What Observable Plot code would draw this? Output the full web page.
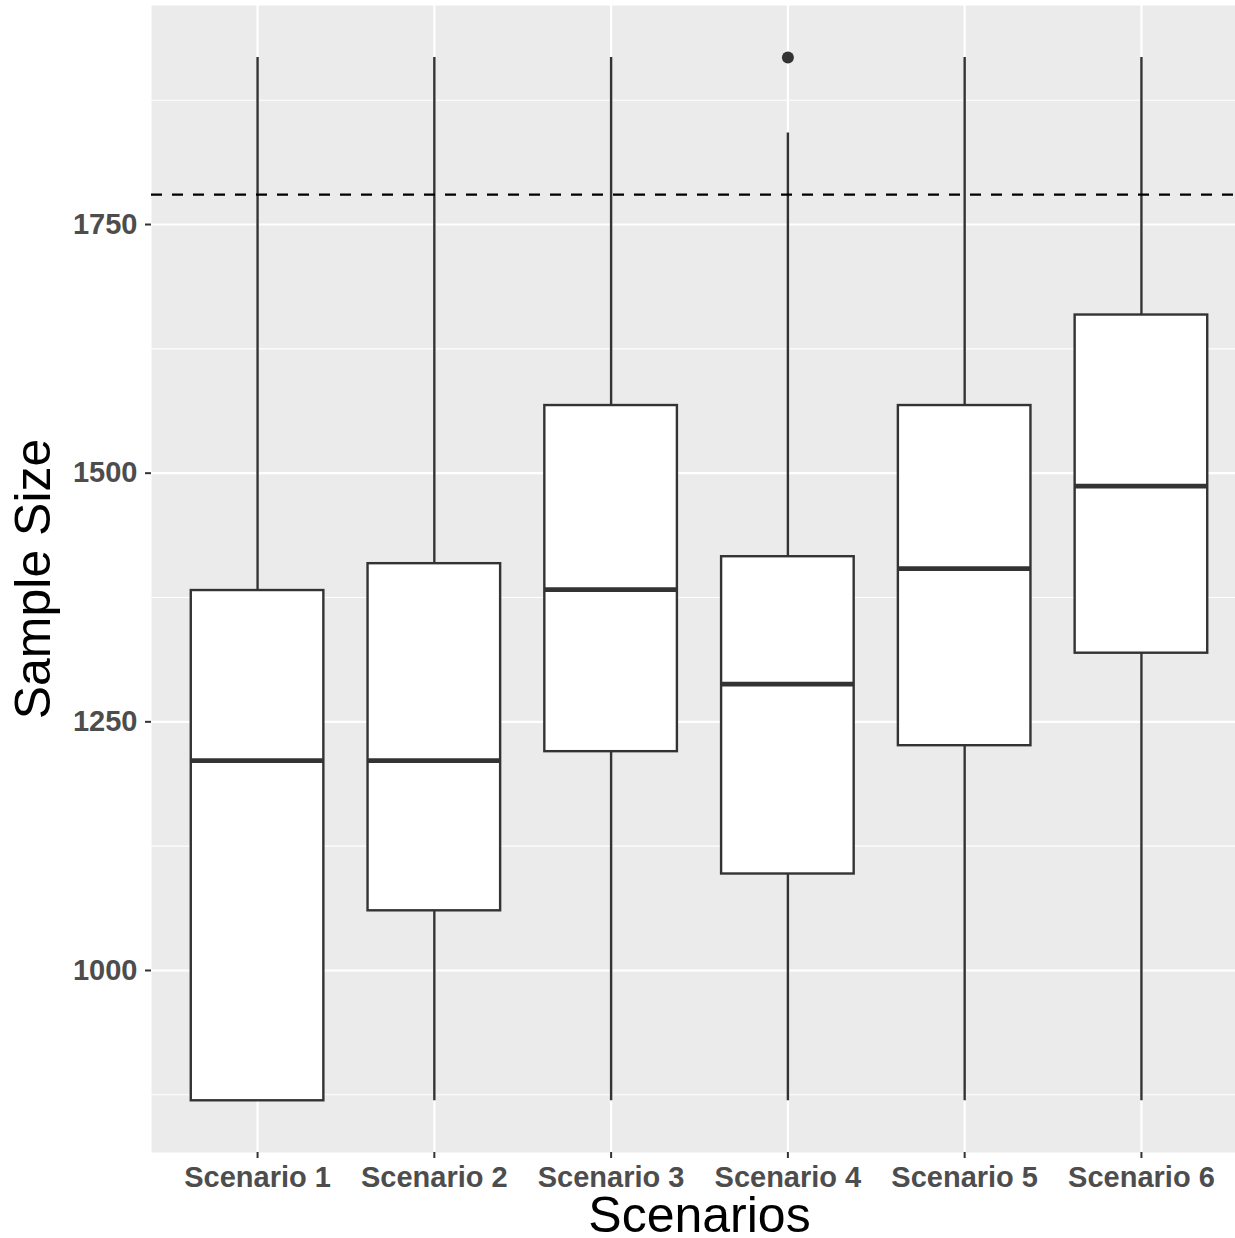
<!DOCTYPE html>
<html>
<head>
<meta charset="utf-8">
<script src="https://cdn.jsdelivr.net/npm/d3@7"></script>
<script src="https://cdn.jsdelivr.net/npm/@observablehq/plot@0.6"></script>
<style>
  html, body { margin: 0; padding: 0; background: #ffffff; }
  #chart svg { display: block; font-family: "Liberation Sans", Arial, Helvetica, sans-serif; }
</style>
</head>
<body>
<div id="chart"></div>
<script>
// Summary statistics
const scenarios     = ["Scenario 1", "Scenario 2", "Scenario 3", "Scenario 4", "Scenario 5", "Scenario 6"];
const lowerWhisker  = [869, 869, 869, 869, 869, 869];
const q1            = [869, 1060, 1220, 1097, 1226, 1319];
const median        = [1211, 1211, 1383, 1288, 1404, 1487];
const q3            = [1382, 1409, 1568, 1416, 1568, 1659];
const upperWhisker  = [1918, 1918, 1918, 1842, 1918, 1918];
const outlierScenario = ["Scenario 4"];
const outlierValue    = [1918];
const referenceLine   = [1780];
const majorTicks = [1000, 1250, 1500, 1750];
const minorTicks = [875, 1125, 1375, 1625, 1875];
const xTitle = "Scenarios";
const yTitle = "Sample Size";

const boxes = scenarios.map((s, i) => ({
  scenario: s, lo: lowerWhisker[i], q1: q1[i], med: median[i], q3: q3[i], hi: upperWhisker[i]
}));
const outliers = outlierScenario.map((s, i) => ({scenario: s, value: outlierValue[i]}));

const font = "Liberation Sans, Arial, Helvetica, sans-serif";
const dark = "#333333";

const chart = Plot.plot({
  width: 1235,
  height: 1238,
  marginLeft: 151,
  marginRight: 0,
  marginTop: 5,
  marginBottom: 86,
  style: {background: "#ffffff", fontFamily: font},
  x: {type: "band", domain: scenarios, range: [151, 1247], paddingInner: 0.25, paddingOuter: 0.225, round: false},
  y: {domain: [817, 1970.2]},
  marks: [
    Plot.frame({fill: "#EBEBEB", stroke: "none"}),
    Plot.ruleY(minorTicks, {stroke: "#ffffff", strokeWidth: 1.1}),
    Plot.ruleY(majorTicks, {stroke: "#ffffff", strokeWidth: 2.2}),
    Plot.ruleX(scenarios, {x: d => d, stroke: "#ffffff", strokeWidth: 2.2}),
    // whiskers
    Plot.ruleX(boxes, {x: "scenario", y1: "lo", y2: "q1", stroke: dark, strokeWidth: 2.4}),
    Plot.ruleX(boxes, {x: "scenario", y1: "q3", y2: "hi", stroke: dark, strokeWidth: 2.4}),
    // boxes
    Plot.barY(boxes, {x: "scenario", y1: "q1", y2: "q3", fill: "#ffffff", stroke: dark, strokeWidth: 2.4}),
    // medians
    Plot.tickY(boxes, {x: "scenario", y: "med", stroke: dark, strokeWidth: 4.8}),
    // outliers
    Plot.dot(outliers, {x: "scenario", y: "value", r: 6, fill: dark, stroke: "none"}),
    // reference line
    Plot.ruleY(referenceLine, {stroke: "#000000", strokeWidth: 2.2, strokeDasharray: "11,10"}),
    // axes: ticks
    Plot.axisX({tickSize: 6, text: null, label: null, stroke: dark, strokeWidth: 2}),
    Plot.axisY({ticks: majorTicks, tickSize: 6, text: null, label: null, stroke: dark, strokeWidth: 2}),
    // axes: tick labels
    Plot.axisX({tickSize: 0, tickPadding: 14, label: null, fill: "#4d4d4d", fontSize: 29, fontWeight: "bold", fontFamily: font}),
    Plot.axisY({ticks: majorTicks, tickSize: 0, tickPadding: 14, label: null, tickFormat: d => String(d), fill: "#4d4d4d", fontSize: 29, fontWeight: "bold", fontFamily: font}),
    // axis titles
    Plot.text([xTitle], {text: d => d, frameAnchor: "bottom", lineAnchor: "top", dx: 6, dy: 44, fontSize: 50, fill: "#000000", fontFamily: font}),
    Plot.text([yTitle], {text: d => d, frameAnchor: "left", textAnchor: "middle", lineAnchor: "top", rotate: -90, dx: -137, fontSize: 50, fill: "#000000", fontFamily: font})
  ]
});

document.getElementById("chart").appendChild(chart);
</script>
</body>
</html>
